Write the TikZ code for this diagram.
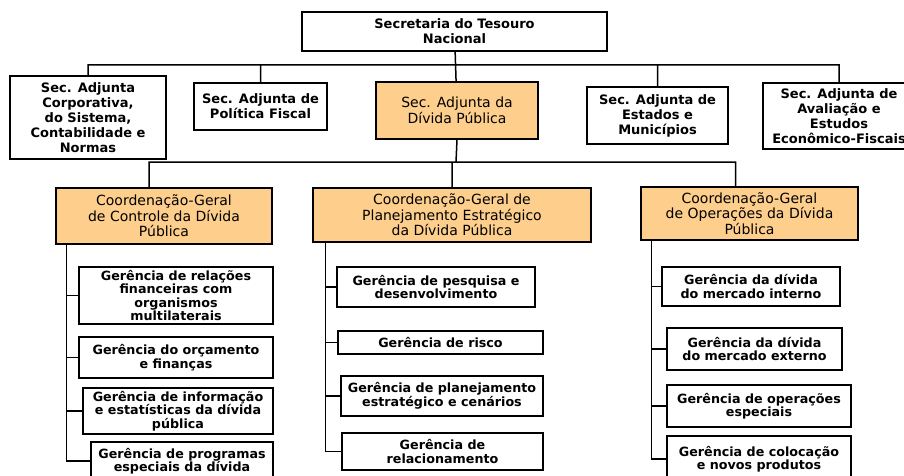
\documentclass[tikz,border=0pt]{standalone}
\usepackage{fontspec}
\setmainfont{DejaVu Sans}
\usepackage{tikz}
\definecolor{cgfill}{RGB}{253,206,140}

\begin{document}
\begin{tikzpicture}[x=1pt, y=-1pt,
		box/.style={draw, line width=1.5pt, align=center, inner sep=0pt, font=\bfseries\fontsize{13}{15}\selectfont},
		cgbox/.style={box, fill=cgfill, font=\fontsize{14}{15.5}\selectfont},
		sub/.style={box, font=\bfseries\fontsize{12.7}{13.5}\selectfont},
		dim/.style 2 args={minimum width=#1pt, minimum height=#2pt},
		wire/.style={line width=1.5pt}]
		\path[use as bounding box, fill=white] (0,0) rectangle (904,476);
		\clip (0,0) rectangle (904,476);

		% secretaria and adjuntas
		\path (454.5,31.5) node[box, dim={305}{39}] (stn) {Secretaria do Tesouro\\Nacional}
		(88,117.5) node[box, dim={156}{83}] (corp) {Sec. Adjunta\\Corporativa,\\do Sistema,\\Contabilidade e\\Normas}
		(260.5,106.5) node[box, dim={133}{47}] (fisc) {Sec. Adjunta de\\Política Fiscal}
		(457,110.5) node[cgbox, dim={162}{57}] (dpub) {Sec. Adjunta da\\Dívida Pública}
		(657.5,115.5) node[box, dim={141}{57}] (estm) {Sec. Adjunta de\\Estados e\\Municípios}
		(839,116) node[box, dim={152}{66}] (aval) {Sec. Adjunta de\\Avaliação e\\Estudos\\Econômico-Fiscais};

		% coordenacoes
		\path (164,216) node[cgbox, dim={216}{56}] (codiv) {Coordenação-Geral\\de Controle da Dívida\\Pública}
		(452,215) node[cgbox, dim={278}{54}] (cogep) {Coordenação-Geral de\\Planejamento Estratégico\\da Dívida Pública}
		(749.5,213.5) node[cgbox, dim={217}{53}] (codip) {Coordenação-Geral\\de Operações da Dívida\\Pública};

		% gerencias
		\path (176,295.5) node[sub, dim={194}{57}] (g1) {Gerência de relações\\financeiras com\\organismos\\multilaterais}
		(176,357.5) node[sub, dim={194}{41}] (g2) {Gerência do orçamento\\e finanças}
		(178,411) node[sub, dim={190}{46}] (g3) {Gerência de informação\\e estatísticas da dívida\\pública}
		(182,461) node[sub, dim={182}{38}] (g4) {Gerência de programas\\especiais da dívida}
		(436,287) node[sub, dim={198}{40}] (p1) {Gerência de pesquisa e\\desenvolvimento}
		(440.5,342.5) node[sub, dim={205}{23}] (p2) {Gerência de risco}
		(442,396) node[sub, dim={202}{40}] (p3) {Gerência de planejamento\\estratégico e cenários}
		(442.5,451.5) node[sub, dim={201}{37}] (p4) {Gerência de\\relacionamento}
		(751,286.5) node[sub, dim={178}{39}] (o1) {Gerência da dívida\\do mercado interno}
		(754.5,349) node[sub, dim={175}{42}] (o2) {Gerência da dívida\\do mercado externo}
		(759,406) node[sub, dim={184}{42}] (o3) {Gerência de operações\\especiais}
		(759,459) node[sub, dim={184}{46}] (o4) {Gerência de colocação\\e novos produtos};

		\coordinate (bus1) at (456,65);
		\coordinate (bus2) at (456,162);

		\draw[wire] (stn) -- (dpub)
		(corp.north) |- (bus1)
		(fisc.north) |- (bus1)
		(estm.north) |- (bus1)
		(aval.north) |- (bus1)
		(dpub.south) -- (bus2)
		([xshift=-15pt]codiv.north) |- (bus2)
		(cogep.north) |- (bus2)
		([xshift=-14pt]codip.north) |- (bus2);

		\draw[wire] ([xshift=11pt]codiv.south west) |- (g1.west)
		([xshift=11pt]codiv.south west) |- (g2.west)
		([xshift=11pt]codiv.south west) |- (g3.west)
		([xshift=11pt]codiv.south west) |- (g4.west)
		([xshift=13pt]cogep.south west) |- (p1.west)
		([xshift=13pt]cogep.south west) |- (p2.west)
		([xshift=13pt]cogep.south west) |- (p3.west)
		([xshift=13pt]cogep.south west) |- (p4.west)
		([xshift=11pt]codip.south west) |- (o1.west)
		([xshift=11pt]codip.south west) |- (o2.west)
		([xshift=11pt]codip.south west) |- (o3.west)
		([xshift=11pt]codip.south west) |- (o4.west);
	\end{tikzpicture}
\end{document}
